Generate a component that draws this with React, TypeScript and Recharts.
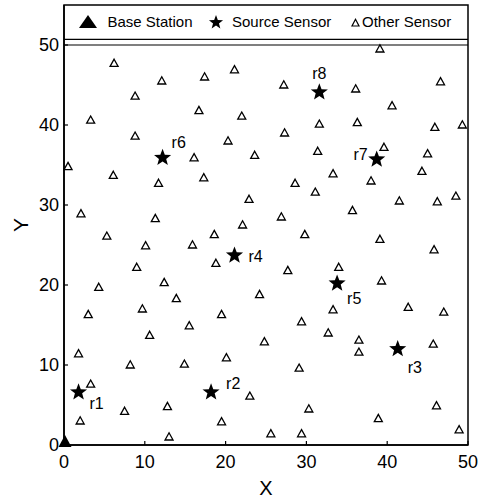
import React from 'react';
import { ScatterChart, Scatter, XAxis, YAxis, ReferenceLine, ReferenceArea } from 'recharts';

const xTicks = [0, 10, 20, 30, 40, 50];
const yTicks = [0, 10, 20, 30, 40, 50];

const baseStation: [number, number][] = [[0, 0]];

const sourceNames = ['r1', 'r2', 'r3', 'r4', 'r5', 'r6', 'r7', 'r8'];
const sourceX = [1.8, 18.2, 41.3, 21.1, 33.8, 12.2, 38.7, 31.6];
const sourceY = [6.6, 6.6, 12.0, 23.7, 20.2, 35.9, 35.7, 44.1];

const otherSensors: [number, number][] = [
  [6.2, 47.7], [3.3, 40.6], [8.8, 43.6], [12.1, 45.5], [17.4, 46.0], [21.1, 46.9],
  [16.7, 41.8], [22.0, 41.1], [27.2, 45.0], [31.6, 40.1], [36.1, 44.5], [36.3, 40.3],
  [39.1, 49.5], [40.6, 42.4], [46.6, 45.4], [45.9, 39.7], [49.3, 40.0], [27.3, 39.0],
  [8.8, 38.6], [16.1, 35.9], [20.3, 38.0], [0.5, 34.8], [6.1, 33.7], [11.7, 32.7],
  [17.3, 33.4], [2.1, 28.9], [11.3, 28.3], [5.3, 26.1], [10.1, 24.9], [15.9, 25.0],
  [18.6, 26.3], [22.1, 27.5], [22.9, 30.7], [18.8, 22.7], [9.0, 22.2], [4.3, 19.7],
  [12.4, 20.3], [13.9, 18.3], [3.0, 16.3], [9.7, 17.0], [19.5, 16.3],
  [23.6, 36.2], [31.4, 36.7], [39.6, 37.2], [45.0, 36.4], [33.3, 33.9], [38.0, 33.0],
  [44.3, 34.2], [28.6, 32.7], [31.1, 31.6], [41.5, 30.5], [46.2, 30.4], [48.5, 31.1],
  [35.7, 29.3], [26.9, 28.5], [29.8, 26.3], [39.1, 25.7], [45.8, 24.4], [27.7, 21.8],
  [34.0, 22.2], [39.3, 20.5], [24.2, 18.8], [33.3, 16.9], [42.6, 17.2], [47.0, 16.6],
  [29.4, 15.4],
  [15.5, 14.9], [10.6, 13.7], [1.8, 11.4], [8.2, 10.0], [14.9, 10.1], [20.1, 10.9],
  [3.3, 7.6], [23.0, 6.1], [7.5, 4.2], [12.8, 4.8], [2.0, 3.0], [19.5, 2.9], [13.0, 1.0],
  [24.8, 12.9], [32.7, 14.0], [36.5, 13.1], [36.5, 11.6], [45.7, 12.6], [29.1, 9.6],
  [30.3, 4.5], [38.9, 3.3], [46.1, 4.9], [48.9, 1.9], [25.6, 1.4], [29.4, 1.4],
];

const FONT = '"Liberation Sans", Arial, Helvetica, sans-serif';

const labelPlacement: Record<string, { dx: number; dy: number; anchor: 'start' | 'middle' | 'end' }> = {
  r1: { dx: 11, dy: 11, anchor: 'start' },
  r2: { dx: 15, dy: -9, anchor: 'start' },
  r3: { dx: 10, dy: 18, anchor: 'start' },
  r4: { dx: 14, dy: 1, anchor: 'start' },
  r5: { dx: 10, dy: 15, anchor: 'start' },
  r6: { dx: 9, dy: -15, anchor: 'start' },
  r7: { dx: -9, dy: -5, anchor: 'end' },
  r8: { dx: 0, dy: -19, anchor: 'middle' },
};

const baseData = baseStation.map(([x, y]) => ({ x, y }));
const sourceData = sourceNames.map((name, i) => ({ name, x: sourceX[i], y: sourceY[i] }));
const otherData = otherSensors.map(([x, y]) => ({ x, y }));

function starPath(cx: number, cy: number, R: number, r: number) {
  let d = '';
  for (let i = 0; i < 10; i++) {
    const rad = i % 2 === 0 ? R : r;
    const a = -Math.PI / 2 + (i * Math.PI) / 5;
    d += (i ? 'L' : 'M') + (cx + rad * Math.cos(a)).toFixed(2) + ',' + (cy + rad * Math.sin(a)).toFixed(2);
  }
  return d + 'Z';
}

const OtherShape = (props: any) => {
  const { cx, cy } = props;
  return (
    <path
      d={`M${cx},${cy - 4.2}L${cx + 4},${cy + 3}L${cx - 4},${cy + 3}Z`}
      fill="none"
      stroke="#000"
      strokeWidth={1.3}
      strokeLinejoin="miter"
    />
  );
};

const SourceShape = (props: any) => {
  const { cx, cy, payload } = props;
  const p = labelPlacement[payload.name] || { dx: 10, dy: 0, anchor: 'start' };
  return (
    <g>
      <path d={starPath(cx, cy, 9, 3.8)} fill="#000" />
      <text
        x={cx + p.dx}
        y={cy + p.dy}
        textAnchor={p.anchor}
        dominantBaseline="central"
        fontSize={16}
        fontFamily={FONT}
        fill="#000"
      >
        {payload.name}
      </text>
    </g>
  );
};

const BaseShape = (props: any) => {
  const { cx, cy } = props;
  return <path d={`M${cx + 1},${cy - 10}L${cx + 7.5},${cy + 2}L${cx - 5.5},${cy + 2}Z`} fill="#000" />;
};

const X_MARGIN = 10;
const Y_MARGIN = 5;

const XTick = (props: any) => {
  const { x, y, payload } = props;
  const axisY = y - X_MARGIN;
  return (
    <g>
      <line x1={x} x2={x} y1={axisY} y2={axisY - 4} stroke="#000" strokeWidth={1.2} />
      <text x={x} y={y} dy="0.72em" textAnchor="middle" fontSize={18} fontFamily={FONT} fill="#000">
        {payload.value}
      </text>
    </g>
  );
};

const YTick = (props: any) => {
  const { x, y, payload } = props;
  const axisX = x + Y_MARGIN;
  return (
    <g>
      <line x1={axisX} x2={axisX + 4} y1={y} y2={y} stroke="#000" strokeWidth={1.2} />
      <text x={x} y={y} dy="0.36em" textAnchor="end" fontSize={18} fontFamily={FONT} fill="#000">
        {payload.value}
      </text>
    </g>
  );
};

const LegendBox = () => (
  <div style={{ position: 'absolute', left: 64, top: 5, width: 404, height: 34, pointerEvents: 'none' }}>
    <svg width={404} height={34}>
      <path d="M24,10L33,23L15,23Z" fill="#000" />
      <text x={43.5} y={16.5} dominantBaseline="central" fontSize={15} fontFamily={FONT} fill="#000">
        Base Station
      </text>
      <path d={starPath(152, 17.5, 7.4, 3.1)} fill="#000" />
      <text x={168} y={16.5} dominantBaseline="central" fontSize={15} fontFamily={FONT} fill="#000">
        Source Sensor
      </text>
      <path d="M291.5,14.3L295,21L288,21Z" fill="none" stroke="#000" strokeWidth={1.2} />
      <text x={298} y={16.5} dominantBaseline="central" fontSize={15} fontFamily={FONT} fill="#000">
        Other Sensor
      </text>
    </svg>
  </div>
);

export default function App() {
  return (
    <div style={{ position: 'absolute', left: 0, top: 0, width: 481, height: 499, background: '#fff' }}>
      <ScatterChart
        width={481}
        height={499}
        margin={{ top: 5, right: 13, bottom: 0, left: 0 }}
        style={{ overflow: 'visible' }}
      >
        <XAxis
          type="number"
          dataKey="x"
          domain={[0, 50]}
          ticks={xTicks}
          height={54}
          tickLine={false}
          tickSize={0}
          tickMargin={X_MARGIN}
          tick={<XTick />}
          axisLine={{ stroke: '#000', strokeWidth: 1.6 }}
          label={{ value: 'X', position: 'insideBottom', offset: 4, fontSize: 20, fill: '#000', fontFamily: FONT }}
        />
        <YAxis
          type="number"
          dataKey="y"
          domain={[0, 55]}
          ticks={yTicks}
          width={64}
          tickLine={false}
          tickSize={0}
          tickMargin={Y_MARGIN}
          tick={<YTick />}
          axisLine={{ stroke: '#000', strokeWidth: 1.6 }}
          label={{
            value: 'Y',
            angle: -90,
            position: 'insideLeft',
            offset: 21,
            fontSize: 21,
            fill: '#000',
            fontFamily: FONT,
            style: { textAnchor: 'middle' },
          }}
        />
        <ReferenceArea x1={0} x2={50} y1={0} y2={55} fill="none" stroke="#000" strokeWidth={1.5} />
        <ReferenceLine y={50} stroke="#000" strokeWidth={1.2} />
        <ReferenceLine y={50.7} stroke="#000" strokeWidth={1.2} />
        <Scatter name="Other Sensor" data={otherData} shape={<OtherShape />} isAnimationActive={false} />
        <Scatter name="Source Sensor" data={sourceData} shape={<SourceShape />} isAnimationActive={false} />
        <Scatter name="Base Station" data={baseData} shape={<BaseShape />} isAnimationActive={false} />
      </ScatterChart>
      <LegendBox />
    </div>
  );
}
